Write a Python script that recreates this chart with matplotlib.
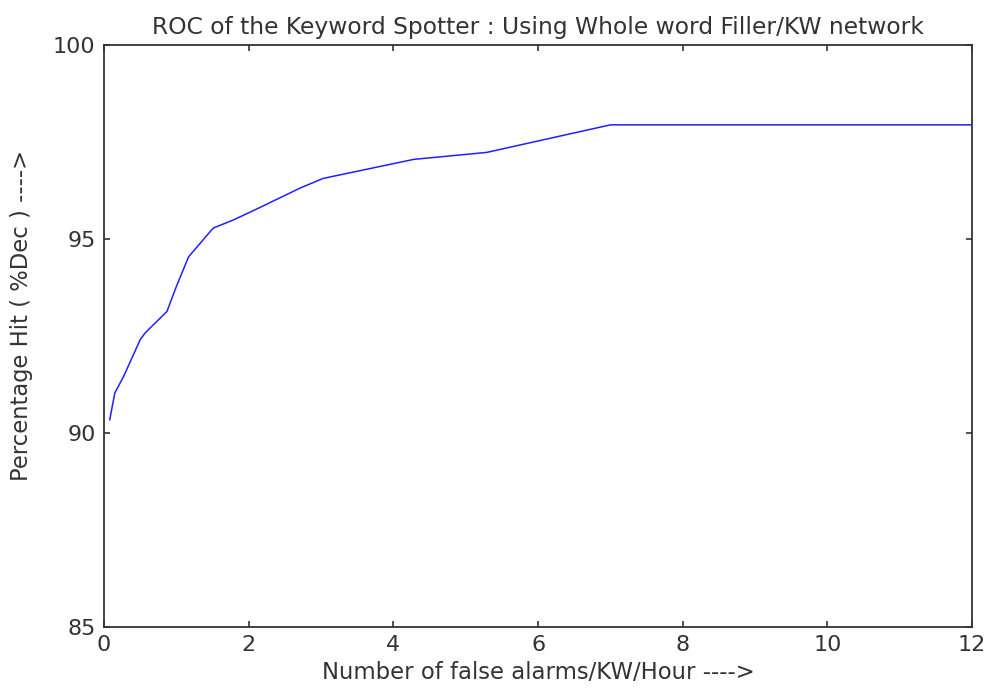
import matplotlib
matplotlib.use('Agg')
import matplotlib.pyplot as plt

# ROC points
false_alarms = [0.08, 0.15, 0.27, 0.50, 0.57, 0.87, 1.0, 1.17, 1.51, 1.79, 2.11,
                2.71, 3.03, 4.28, 5.29, 7.0, 12.0]
pct_hit = [90.34, 91.03, 91.45, 92.40, 92.58, 93.13, 93.77, 94.54, 95.28, 95.49, 95.77,
           96.31, 96.56, 97.05, 97.23, 97.94, 97.94]

plt.rcParams['font.family'] = ['DejaVu Sans']
txt = '#333333'

fig = plt.figure(figsize=(9.9, 6.88), dpi=100)
ax = fig.add_axes([0.105, 0.0887, 0.877, 0.846])

ax.plot(false_alarms, pct_hit, color='#2020ff', linewidth=1.1)

ax.set_xlim(0, 12)
ax.set_ylim(85, 100)
ax.set_xticks([0, 2, 4, 6, 8, 10, 12])
ax.set_yticks([85, 90, 95, 100])
ax.tick_params(direction='in', top=True, right=True, labelsize=16, length=4, width=1.2,
               color='#333333', labelcolor=txt, pad=6)
for s in ax.spines.values():
    s.set_linewidth(1.3)
    s.set_color('#333333')

ax.set_title('ROC of the Keyword Spotter : Using Whole word Filler/KW network',
             fontsize=16.8, color=txt, pad=8)
ax.set_xlabel('Number of false alarms/KW/Hour ---->', fontsize=16.4, color=txt, labelpad=4)
ax.set_ylabel('Percentage Hit ( %Dec ) ---->', fontsize=16.3, color=txt)
# matlab puts the y label a bit above the middle
ax.yaxis.set_label_coords(-0.082, 0.536)

fig.savefig('out.png', dpi=100)
